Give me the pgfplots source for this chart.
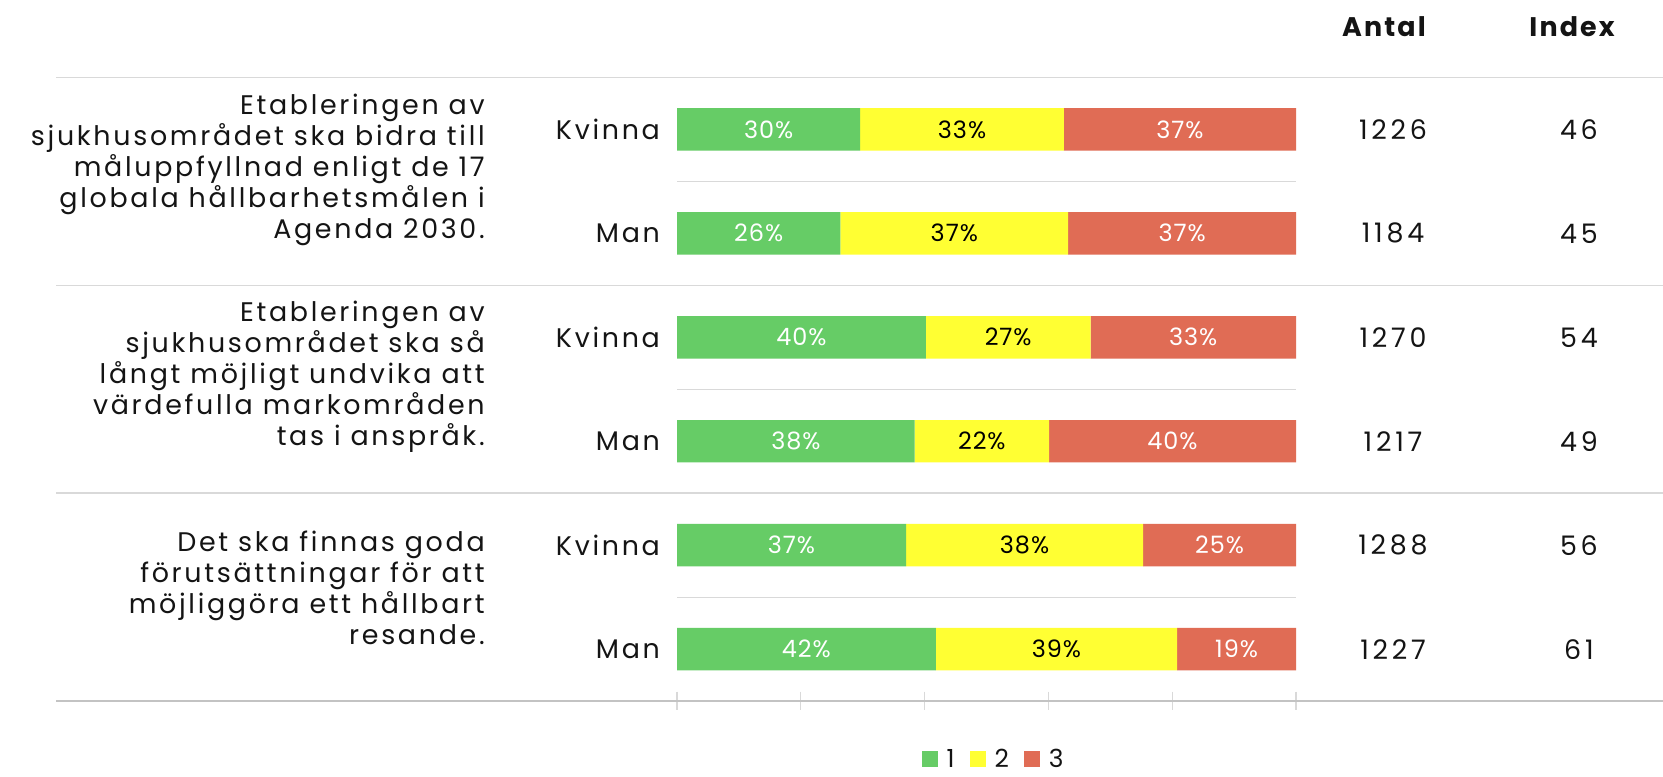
\documentclass[border=0pt]{standalone}
\usepackage{fontspec}
\setmainfont{Poppins}
\usepackage{pgfplots}
\pgfplotsset{compat=1.18}
\definecolor{cgreen}{RGB}{102,204,102}
\definecolor{cyellow}{RGB}{255,255,51}
\definecolor{cred}{RGB}{224,108,85}
\definecolor{sep}{RGB}{217,217,217}
\definecolor{txt}{RGB}{20,20,20}
\pgfplotsset{base/.style={
  scale only axis, width=1663bp, height=777bp,
  xmin=-109.37, xmax=159.29, ymin=0, ymax=777, y dir=reverse,
  hide axis, at={(0,0)}, anchor=south west, clip=false}}
\newcommand\qfont{\fontsize{27}{31}\selectfont\addfontfeatures{LetterSpace=10}}
\newcommand\nfont{\fontsize{27}{31}\selectfont\addfontfeatures{LetterSpace=14}}
\tikzset{lab/.style={font=\qfont, text=txt}, num/.style={font=\nfont, text=txt}}
\begin{document}
\begin{tikzpicture}
\path[use as bounding box, fill=white] (0,0) rectangle (1663bp,777bp);
\begin{axis}[base, xbar stacked, bar width=42.4bp,
  legend style={at={(axis description cs:0.5975,0.0235)}, anchor=center, draw=none, fill=none,
    legend columns=3, font=\fontsize{25}{25}\selectfont\color{txt},
    /tikz/every odd column/.append style={column sep=7bp},
    /tikz/every even column/.append style={column sep=13bp}},
  legend image code/.code={\fill[#1, draw=none] (0bp,-8bp) rectangle (16bp,8bp);}]
% separators
\draw[sep, line width=1.5bp] (axis cs:-100.3,77.4) -- (axis cs:159.29,77.4);
\draw[sep, line width=1.5bp] (axis cs:-100.3,285.3) -- (axis cs:159.29,285.3);
\draw[sep, line width=1.5bp] (axis cs:-100.3,493.2) -- (axis cs:159.29,493.2);
\draw[sep!90!black, line width=1.5bp] (axis cs:-100.3,701.1) -- (axis cs:159.29,701.1);
\draw[sep, line width=1.2bp] (axis cs:0,181.4) -- (axis cs:100,181.4);
\draw[sep, line width=1.2bp] (axis cs:0,389.2) -- (axis cs:100,389.2);
\draw[sep, line width=1.2bp] (axis cs:0,597.1) -- (axis cs:100,597.1);
\draw[sep, line width=1.2bp] (axis cs:0,691.5) -- (axis cs:0,709.5);
\draw[sep, line width=1.2bp] (axis cs:20,691.5) -- (axis cs:20,709.5);
\draw[sep, line width=1.2bp] (axis cs:40,691.5) -- (axis cs:40,709.5);
\draw[sep, line width=1.2bp] (axis cs:60,691.5) -- (axis cs:60,709.5);
\draw[sep, line width=1.2bp] (axis cs:80,691.5) -- (axis cs:80,709.5);
\draw[sep, line width=1.2bp] (axis cs:100,691.5) -- (axis cs:100,709.5);
\addplot[fill=cgreen, draw=none] coordinates {(29.6,129.4) (26.4,233.3) (40.2,337.3) (38.4,441.2) (37.0,545.1) (41.8,649.1)};
\addplot[fill=cyellow, draw=none] coordinates {(32.9,129.4) (36.8,233.3) (26.6,337.3) (21.7,441.2) (38.3,545.1) (39.0,649.1)};
\addplot[fill=cred, draw=none] coordinates {(37.5,129.4) (36.8,233.3) (33.2,337.3) (39.9,441.2) (24.7,545.1) (19.2,649.1)};
\legend{1,2,3}
% question texts
\node[anchor=east, align=right, lab] at (axis cs:-30.5,170) {Etableringen av\\sjukhusområdet ska bidra till\\måluppfyllnad enligt de 17\\globala hållbarhetsmålen i\\Agenda 2030.};
\node[anchor=east, align=right, lab] at (axis cs:-30.5,376.5) {Etableringen av\\sjukhusområdet ska så\\långt möjligt undvika att\\värdefulla markområden\\tas i anspråk.};
\node[anchor=east, align=right, lab] at (axis cs:-30.5,588) {Det ska finnas goda\\förutsättningar för att\\möjliggöra ett hållbart\\resande.};
\node[anchor=east, lab] at (axis cs:-2.2,129.4) {Kvinna};
\node[anchor=east, lab] at (axis cs:-2.2,233.3) {Man};
\node[anchor=east, lab] at (axis cs:-2.2,337.3) {Kvinna};
\node[anchor=east, lab] at (axis cs:-2.2,441.2) {Man};
\node[anchor=east, lab] at (axis cs:-2.2,545.1) {Kvinna};
\node[anchor=east, lab] at (axis cs:-2.2,649.1) {Man};
\node[font=\fontsize{27}{27}\selectfont\bfseries\addfontfeatures{LetterSpace=8}, text=txt] at (axis cs:114.2,26.5) {Antal};
\node[font=\fontsize{27}{27}\selectfont\bfseries\addfontfeatures{LetterSpace=8}, text=txt] at (axis cs:144.6,26.5) {Index};
\node[num] at (axis cs:115.67,129.4) {1226};
\node[num] at (axis cs:115.67,233.3) {1184};
\node[num] at (axis cs:115.67,337.3) {1270};
\node[num] at (axis cs:115.67,441.2) {1217};
\node[num] at (axis cs:115.67,545.1) {1288};
\node[num] at (axis cs:115.67,649.1) {1227};
\node[num] at (axis cs:145.7,129.4) {46};
\node[num] at (axis cs:145.7,233.3) {45};
\node[num] at (axis cs:145.7,337.3) {54};
\node[num] at (axis cs:145.7,441.2) {49};
\node[num] at (axis cs:145.7,545.1) {56};
\node[num] at (axis cs:145.7,649.1) {61};
\end{axis}
\begin{axis}[base, nodes near coords, point meta=explicit symbolic,
  every node near coord/.append style={anchor=center, font=\fontsize{24}{24}\selectfont\addfontfeatures{LetterSpace=4}}]
\addplot[draw=none, mark=none, nodes near coords style={text=white}] coordinates {
 (14.8,129.4) [30\%] (13.2,233.3) [26\%] (20.1,337.3) [40\%] (19.2,441.2) [38\%] (18.5,545.1) [37\%] (20.9,649.1) [42\%]};
\addplot[draw=none, mark=none, nodes near coords style={text=black}] coordinates {
 (46.05,129.4) [33\%] (44.8,233.3) [37\%] (53.5,337.3) [27\%] (49.25,441.2) [22\%] (56.15,545.1) [38\%] (61.3,649.1) [39\%]};
\addplot[draw=none, mark=none, nodes near coords style={text=white}] coordinates {
 (81.25,129.4) [37\%] (81.6,233.3) [37\%] (83.4,337.3) [33\%] (80.05,441.2) [40\%] (87.65,545.1) [25\%] (90.4,649.1) [19\%]};
\end{axis}
\end{tikzpicture}
\end{document}
